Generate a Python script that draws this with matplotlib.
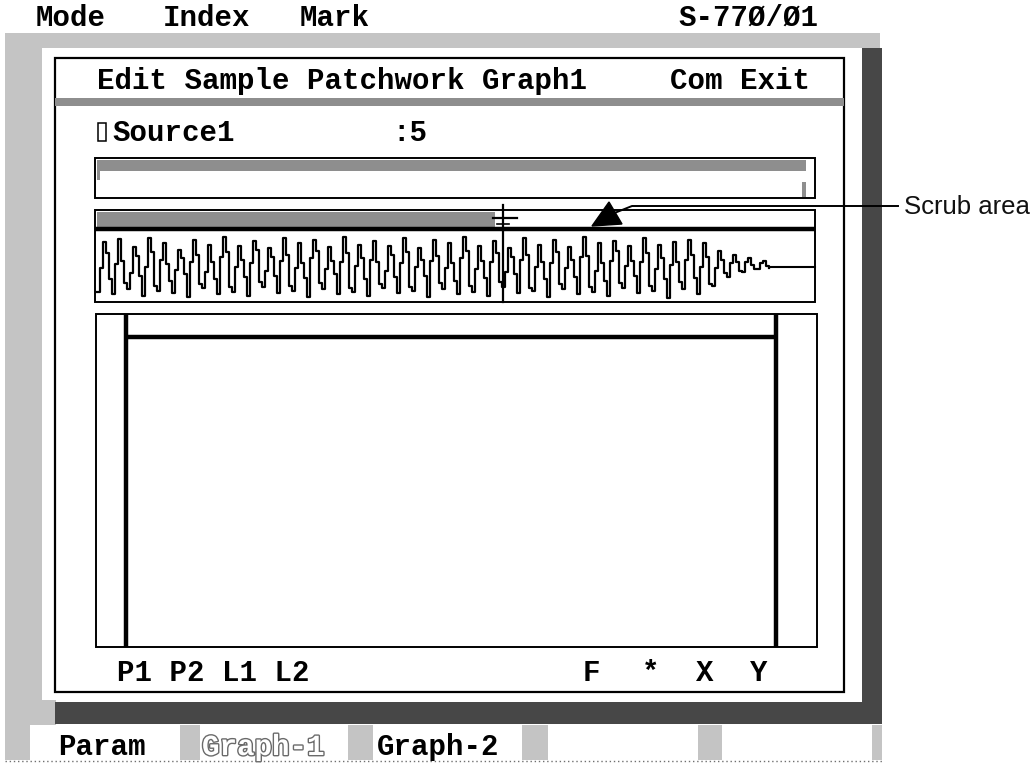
import matplotlib
matplotlib.use("Agg")
import matplotlib.pyplot as plt
from matplotlib.patches import Rectangle, Polygon
import matplotlib.patheffects as pe

# ---------------- data (texts and waveform levels) ----------------
menu_labels = ["Mode", "Index", "Mark"]
model_label = "S-77\u00d8/\u00d81"
title_left = ["Edit", "Sample", "Patchwork", "Graph1"]
title_right = ["Com", "Exit"]
source_name = "Source1"
source_value = ":5"
graph_left_labels = ["P1", "P2", "L1", "L2"]
graph_right_labels = ["F", "*", "X", "Y"]
tab_labels = ["Param", "Graph-1", "Graph-2", "", ""]
annotation_label = "Scrub area"

# waveform sample levels (0 = bottom, 100 = top)
wave_levels = [
    10, 48, 90, 72, 30,   6, 55, 95, 60, 25,  14, 40, 82, 68, 35,
    4, 50, 96, 75, 20,   12, 62, 88, 55, 28,   8, 45, 78, 64, 38,
    2, 58, 94, 70, 22,   16, 42, 86, 58, 30,   6, 66, 98, 74, 18,
    10, 50, 84, 62, 34,   4, 56, 92, 78, 26,  18, 44, 80, 66, 36,
    8, 60, 96, 70, 20,   12, 48, 88, 56, 32,   2, 64, 94, 76, 24,
    14, 46, 82, 60, 38,   6, 58, 98, 72, 16,  10, 52, 86, 64, 30,
    4, 62, 92, 58, 22,   16, 44, 84, 70, 34,   8, 56, 96, 74, 18,
    12, 50, 80, 62, 36,   2, 60, 94, 68, 24,  14, 48, 88, 56, 28,
    6, 64, 98, 76, 20,   10, 46, 84, 60, 32,   4, 58, 92, 72, 26,
    18, 42, 80, 66, 38,   8, 62, 96, 70, 16,  12, 50, 86, 58, 30,
    2, 56, 94, 74, 22,   14, 48, 82, 62, 34,   6, 66, 98, 68, 18,
    10, 44, 88, 56, 28,   4, 60, 92, 76, 24,  16, 52, 84, 60, 36,
    8, 58, 96, 72, 20,   12, 46, 86, 64, 30,   0, 54, 90, 58, 26,
    14, 62, 94, 70, 32,   6, 50, 88, 66, 22,  20, 48, 76, 62, 40,
    34, 56, 70, 58, 44,  42, 58, 64, 54, 46,  46, 56, 60, 52, 48,
]
wave_rest_level = 50
scrub_position = 0.565   # fraction of the sample covered by the scrub bar

# ---------------- figure ----------------
W, H = 1034, 768
fig = plt.figure(figsize=(W / 100, H / 100), dpi=100)
ax = fig.add_axes([0, 0, 1, 1])
ax.set_xlim(0, W)
ax.set_ylim(H, 0)
ax.axis("off")

MONO = ["Liberation Mono", "DejaVu Sans Mono"]
FS = 21
LIGHT = "#c4c4c4"
MED = "#8e8e8e"
DARK = "#474747"


def rect(x0, y0, x1, y1, fc="none", ec="none", lw=0.0, z=1):
    ax.add_patch(Rectangle((x0, y0), x1 - x0, y1 - y0, facecolor=fc,
                           edgecolor=ec, linewidth=lw, zorder=z))


def mono(x, y, s, **kw):
    kw.setdefault("fontsize", FS)
    kw.setdefault("fontweight", "bold")
    ax.text(x, y, s, family=MONO, ha="left", va="baseline", color="black", **kw)


# top menu
for lab, x in zip(menu_labels, [36, 163, 300]):
    mono(x, 26, lab)
mono(678, 26, model_label)

# outer light frame
rect(5, 33, 880, 48, fc=LIGHT, z=1)
rect(5, 33, 42, 725, fc=LIGHT, z=1)
rect(42, 700, 56, 725, fc=LIGHT, z=1)
# dark shadow
rect(862, 48, 882, 724, fc=DARK, z=2)
rect(55, 702, 882, 724, fc=DARK, z=2)

# window frame
rect(55, 58, 844, 692, fc="white", ec="black", lw=1.6, z=3)
rect(55, 98, 844, 106, fc=MED, z=4)
mono(97, 89, " ".join(title_left), zorder=5)
mono(670, 89, " ".join(title_right), zorder=5)

# source line
rect(98, 123, 106, 141, fc="white", ec="black", lw=1.1, z=5)
mono(112, 141, source_name, zorder=5)
mono(392, 141, source_value, zorder=5)

# overview bar
rect(95, 158, 815, 198, fc="white", ec="black", lw=1.4, z=5)
rect(97, 160, 806, 171, fc=MED, z=6)
rect(97, 171, 100, 180, fc=MED, z=6)
rect(802, 182, 806, 197, fc=MED, z=6)

# scrub bar + waveform box
x_left, x_right = 97, 815
rect(95, 210, 815, 302, fc="white", ec="black", lw=1.4, z=5)
cursor_x = x_left + scrub_position * (x_right - x_left)
rect(97, 212, cursor_x - 8, 227, fc=MED, z=6)
ax.plot([95, 815], [229, 229], color="black", lw=3.2, zorder=7, solid_capstyle="butt")

# waveform
step = 3.0
wx = [x_left + i * step for i in range(len(wave_levels))]
y_bot, y_top = 298, 236
wy = [y_bot - v / 100 * (y_bot - y_top) for v in wave_levels]
ax.plot(wx, wy, drawstyle="steps-post", color="black", lw=1.6, zorder=7)
rest_y = y_bot - wave_rest_level / 100 * (y_bot - y_top)
ax.plot([wx[-1], 815], [rest_y, rest_y], color="black", lw=1.5, zorder=7)

# cursor
ax.plot([cursor_x, cursor_x], [205, 302], color="black", lw=1.6, zorder=8)
ax.plot([cursor_x - 10, cursor_x + 14], [218, 218], color="black", lw=1.6, zorder=8)
ax.plot([cursor_x - 6, cursor_x + 6], [224, 224], color="black", lw=1.2, zorder=8)

# graph area
rect(96, 314, 817, 647, fc="white", ec="black", lw=1.4, z=5)
ax.plot([126, 126], [314, 647], color="black", lw=3.2, zorder=7, solid_capstyle="butt")
ax.plot([776, 776], [314, 647], color="black", lw=3.2, zorder=7, solid_capstyle="butt")
ax.plot([126, 776], [337, 337], color="black", lw=3.2, zorder=7, solid_capstyle="butt")

mono(117, 681, " ".join(graph_left_labels), zorder=6)
for lab, xc in zip(graph_right_labels, [591, 651, 705, 759]):
    ax.text(xc, 681, lab, family=MONO, fontsize=FS, fontweight="bold",
            ha="center", va="baseline", zorder=6)

# tabs row
tab_edges = [(30, 180), (200, 348), (373, 522), (548, 698), (722, 872)]
rect(5, 725, 882, 760, fc=LIGHT, z=1)
for (a, b), lab in zip(tab_edges, tab_labels):
    rect(a, 725, b, 760, fc="white", z=2)
    if not lab:
        continue
    if lab == "Graph-1":
        ax.text(a + 2, 755, lab, family=MONO, fontsize=FS, fontweight="bold",
                ha="left", va="baseline", color="white", zorder=4,
                path_effects=[pe.withStroke(linewidth=2.0, foreground="#6a6a6a")])
    else:
        mono(a + (28 if lab == "Param" else 4), 755, lab, zorder=4)
ax.plot([5, 882], [761, 761], color="#707070", lw=1.0, ls=(0, (1, 2)), zorder=3)

# annotation
ax.plot([898, 632, 612], [206, 206, 214], color="black", lw=1.4, zorder=9)
ax.add_patch(Polygon([[592, 226], [609, 202], [622, 224]], closed=True,
                     facecolor="black", edgecolor="black", zorder=9))
ax.text(904, 207, annotation_label, family=["Liberation Sans", "DejaVu Sans"],
        fontsize=18.5, ha="left", va="center", color="#111111", zorder=9)

fig.savefig("out.png", dpi=100, facecolor="white")
